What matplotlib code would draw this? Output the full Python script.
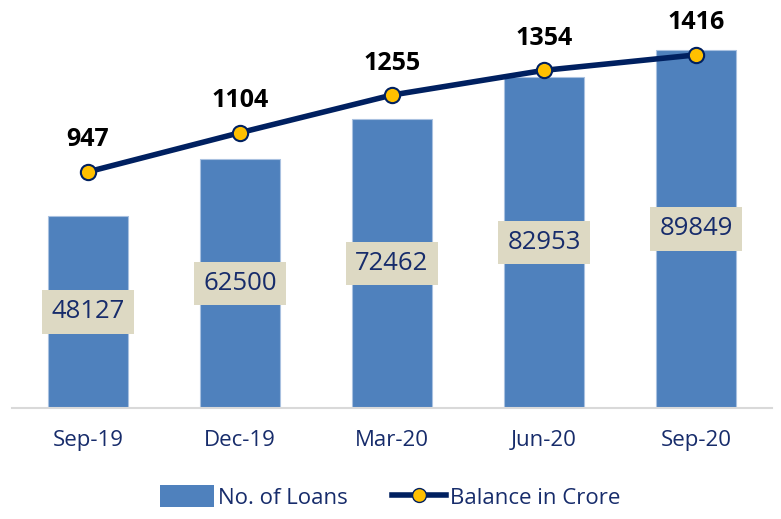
import matplotlib
matplotlib.use("Agg")
import matplotlib.pyplot as plt
from matplotlib.lines import Line2D
from matplotlib.patches import Patch

plt.rcParams['font.family'] = ['Open Sans', 'DejaVu Sans']

quarters = ["Sep-19", "Dec-19", "Mar-20", "Jun-20", "Sep-20"]
loans = [48127, 62500, 72462, 82953, 89849]
balance = [947, 1104, 1255, 1354, 1416]

bar_color = "#4F81BD"
navy = "#002060"
label_navy = "#172C6B"

fig = plt.figure(figsize=(7.81, 5.19), dpi=100)
ax = fig.add_axes([12 / 781, 111 / 519, 760 / 781, 399 / 519])
x = list(range(len(quarters)))

ax.bar(x, loans, width=80 / 152, color=bar_color, edgecolor="#A9C1E0", linewidth=0.8, zorder=2)
ax.set_ylim(0, 100000)
ax.set_xlim(-0.5, len(quarters) - 0.5)

# value labels in the middle of the bars
for xi, v in zip(x, loans):
    ax.text(xi, v / 2, str(v), ha="center", va="center", fontsize=18.5, color=label_navy,
            zorder=4, bbox=dict(boxstyle="square,pad=0.36", fc="#DDD9C3", ec="none"))

ax.set_xticks(x)
ax.set_xticklabels(quarters, fontsize=16, color=label_navy)
ax.tick_params(axis="x", length=0, pad=16)
ax.set_yticks([])
for s in ["top", "right", "left"]:
    ax.spines[s].set_visible(False)
ax.spines["bottom"].set_color("#D9D9D9")
ax.spines["bottom"].set_linewidth(1.5)

ax2 = ax.twinx()
ax2.set_ylim(0, 1600)
ax2.plot(x, balance, color=navy, linewidth=4, marker="o", markersize=11,
         markerfacecolor="#FFC000", markeredgecolor=navy, markeredgewidth=1.5, zorder=5)
for xi, v in zip(x, balance):
    ax2.annotate(str(v), (xi, v), xytext=(0, 23), textcoords="offset points",
                 ha="center", va="center", fontsize=18, fontweight="bold", color="black")
ax2.set_yticks([])
for s in ["top", "right", "left", "bottom"]:
    ax2.spines[s].set_visible(False)

handles = [Patch(facecolor=bar_color, label="No. of Loans"),
           Line2D([0], [0], color=navy, linewidth=4, marker="o", markersize=10,
                  markerfacecolor="#FFC000", markeredgecolor=navy, label="Balance in Crore")]
leg = fig.legend(handles=handles, loc="center", bbox_to_anchor=(0.5, 1 - 497 / 519), ncol=2,
                 frameon=False, fontsize=16, handlelength=2.4, handleheight=1.1,
                 handletextpad=0.2, columnspacing=2.0)
for t in leg.get_texts():
    t.set_color(label_navy)

fig.savefig("out.png", dpi=100)
